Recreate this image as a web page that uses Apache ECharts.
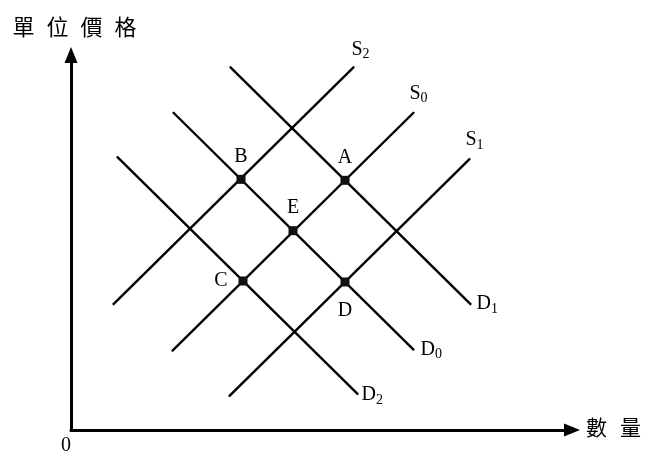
<!DOCTYPE html>
<html>
<head>
<meta charset="utf-8">
<script src="https://cdn.jsdelivr.net/npm/echarts@6/dist/echarts.min.js"></script>
<style>
  html, body { margin: 0; padding: 0; background: #fff; }
  #chart { width: 648px; height: 456px; }
</style>
</head>
<body>
<div id="chart"></div>
<script>
// axis extents (quantity, price)
const quantityMax = 501
const priceMax = 380

// supply curves, [quantity, price] at each end
const supplyS2 = [[42, 127], [283, 368]]
const supplyS0 = [[101, 80], [343, 322]]
const supplyS1 = [[158, 34], [399, 275]]

// demand curves
const demandD1 = [[159, 368], [400, 127]]
const demandD0 = [[102, 322], [343, 81]]
const demandD2 = [[46, 277], [287, 36]]

// equilibrium points
const pointNames = ['A', 'B', 'E', 'C', 'D']
const pointValues = [[274, 253], [170, 254], [222, 202], [172, 151], [274, 150]]

const serif = '"Liberation Serif", "DejaVu Serif", serif'
const cjk = '"Noto Sans CJK TC", "Noto Sans CJK SC", sans-serif'

const subRich = {
  m: { fontFamily: serif, fontSize: 20, color: '#000', lineHeight: 20, verticalAlign: 'top' },
  s: { fontFamily: serif, fontSize: 14, color: '#000', lineHeight: 14, verticalAlign: 'top', padding: [8, 0, 0, 0] },
}

const curve = (letter, num, data, offset) => ({
  type: 'line',
  data: data,
  symbol: 'circle',
  symbolSize: 1,
  showSymbol: true,
  itemStyle: { color: '#000' },
  lineStyle: { color: '#000', width: 2.4 },
  label: {
    show: true,
    position: offset,
    align: 'left',
    verticalAlign: 'top',
    formatter: (p) => p.dataIndex === 1 ? '{m|' + letter + '}{s|' + num + '}' : '',
    rich: subRich,
  },
  silent: true,
  z: 2,
})

// where each point's letter sits, and how far from the marker
const pointLabelPos = { A: 'top', B: 'top', E: 'top', C: 'left', D: 'bottom' }
const pointLabelGap = { A: 8, B: 8, E: 8, C: 11, D: 14 }

const chart = echarts.init(document.getElementById('chart'))

chart.setOption({
  animation: false,
  backgroundColor: '#fff',
  grid: { left: 71, right: 76, top: 55, bottom: 21 },
  xAxis: {
    type: 'value',
    min: 0,
    max: quantityMax,
    name: '數{g|}量',
    nameLocation: 'end',
    nameGap: 14,
    nameTextStyle: {
      fontFamily: cjk,
      fontSize: 21,
      color: '#000',
      align: 'left',
      verticalAlign: 'middle',
      padding: [0, 0, 5, 0],
      rich: { g: { width: 13 } },
    },
    axisLine: {
      lineStyle: { color: '#000', width: 3 },
      symbol: ['none', 'triangle'],
      symbolSize: [13, 16],
    },
    axisTick: { show: false },
    splitLine: { show: false },
    axisLabel: {
      showMinLabel: true,
      formatter: (v) => v === 0 ? '0' : '',
      fontFamily: serif,
      fontSize: 20,
      color: '#000',
      align: 'right',
      margin: 6,
    },
  },
  yAxis: {
    type: 'value',
    min: 0,
    max: priceMax,
    name: '單{g|}位{g|}價{g|}格',
    nameLocation: 'end',
    nameGap: 28,
    nameTextStyle: {
      fontFamily: cjk,
      fontSize: 22,
      color: '#000',
      align: 'center',
      verticalAlign: 'middle',
      padding: [0, 0, 0, 7],
      rich: { g: { width: 12 } },
    },
    axisLine: {
      show: true,
      lineStyle: { color: '#000', width: 3 },
      symbol: ['none', 'triangle'],
      symbolSize: [13, 16],
    },
    axisTick: { show: false },
    splitLine: { show: false },
    axisLabel: { show: false },
  },
  series: [
    curve('S', '2', supplyS2, [-2, -27]),
    curve('S', '0', supplyS0, [-4, -28]),
    curve('S', '1', supplyS1, [-4, -28]),
    curve('D', '1', demandD1, [6, -10]),
    curve('D', '0', demandD0, [7, -10]),
    curve('D', '2', demandD2, [4, -9]),
    {
      type: 'scatter',
      data: pointValues.map((v, i) => ({
        name: pointNames[i],
        value: v,
        label: { position: pointLabelPos[pointNames[i]], distance: pointLabelGap[pointNames[i]] },
      })),
      symbol: 'rect',
      symbolSize: 9,
      itemStyle: { color: '#111', opacity: 1 },
      label: {
        show: true,
        formatter: '{b}',
        fontFamily: serif,
        fontSize: 20,
        color: '#000',
      },
      silent: true,
      z: 3,
    },
  ],
})
</script>
</body>
</html>
